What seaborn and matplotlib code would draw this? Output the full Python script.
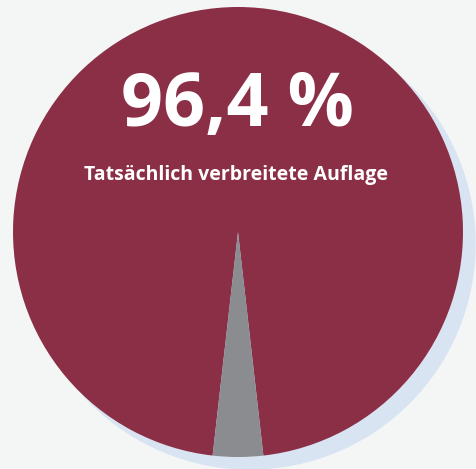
import matplotlib
matplotlib.use('Agg')
import matplotlib.pyplot as plt
import seaborn as sns
from matplotlib.patches import Circle

# Data
labels = ["Tatsächlich verbreitete Auflage", "Rest"]
shares = [96.4, 3.6]
colors = ["#8b2f47", "#8a8c8f"]
headline = "96,4 %"
subtitle = "Tatsächlich verbreitete Auflage"

sns.set_theme(style="white")
plt.rcParams['font.family'] = ['Open Sans', 'DejaVu Sans']

W, H = 477, 469
fig = plt.figure(figsize=(W / 100, H / 100), dpi=100)
fig.patch.set_facecolor("#f4f6f6")
ax = fig.add_axes([0, 0, 1, 1])
ax.set_facecolor("#f4f6f6")

cx, cy, r = 238, 237, 225

# shadow
ax.add_patch(Circle((cx + 12, cy - 12), r, color="#d9e4f3", zorder=0))

# gray slice centered at the bottom
start = 270 + 180 * shares[1] / 100
ax.pie(shares, colors=colors, startangle=start, center=(cx, cy), radius=r,
       wedgeprops=dict(linewidth=0), frame=True)

ax.set_xlim(0, W)
ax.set_ylim(0, H)
ax.set_aspect('equal')
ax.axis('off')

ax.text(237, H - 107, headline, ha="center", va="center", color="white",
        fontsize=53, fontweight="bold")
ax.text(236, H - 175, subtitle, ha="center", va="center", color="white",
        fontsize=14, fontweight="bold")

fig.savefig("out.png", dpi=100, facecolor=fig.get_facecolor())
